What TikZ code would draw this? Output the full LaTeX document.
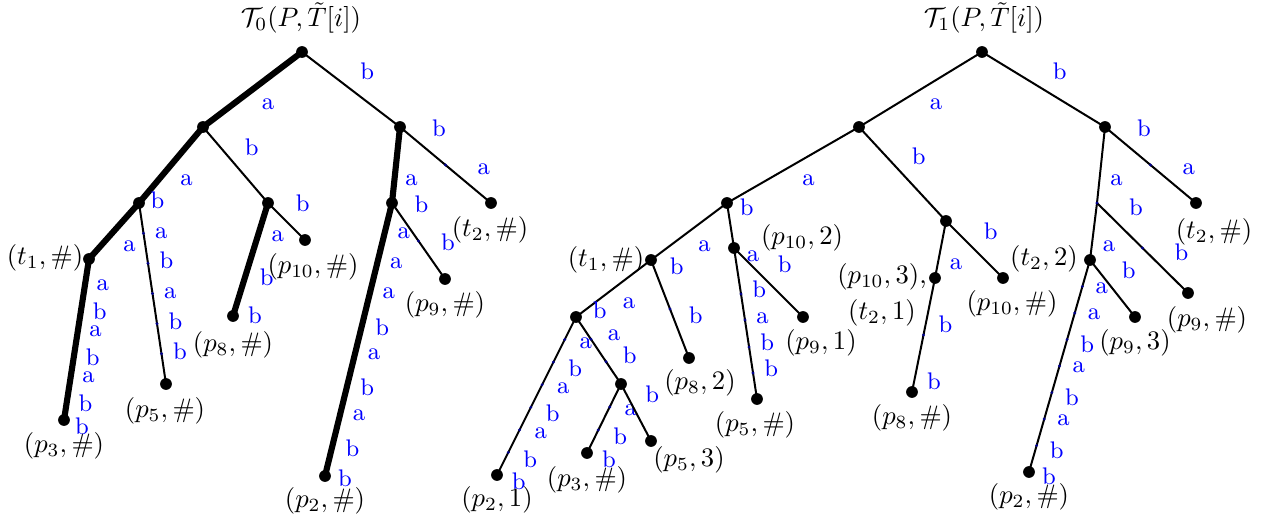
\documentclass[tikz,border=0pt]{standalone}
\usepackage{amsmath}
\usepackage{tikz}
\usetikzlibrary{calc}

\tikzset{
  vtx/.style={circle,fill=black,inner sep=0pt,minimum size=4.4pt},
  edge/.style={line width=0.75pt},
  heavy/.style={line width=2.3pt},
  lbl/.style={auto,font=\small,text=blue,inner sep=3.3pt},
  tag/.style={inner sep=0pt},
  segdot/.style={fill=blue!55!black}
}

% one letter per segment of an edge
\newcommand{\elabels}[3]{%
  \foreach \ltr [count=\ii] in {#3} {\xdef\nseg{\ii}}%
  \foreach \ltr [count=\ii] in {#3} {%
    \pgfmathsetmacro\fr{(\ii-0.5)/\nseg}%
    \path (#1.center) -- (#2.center) node[lbl,pos=\fr] {\ltr};}%
}
% thin edge, with a small dot between two letters
\newcommand{\tedge}[3]{%
  \draw[edge] (#1.center) -- (#2.center);
  \elabels{#1}{#2}{#3}%
  \ifnum\nseg>1
    \pgfmathtruncatemacro\nlast{\nseg-1}%
    \foreach \k in {1,...,\nlast} {%
      \pgfmathsetmacro\fr{\k/\nseg}%
      \fill[segdot] ($(#1.center)!\fr!(#2.center)$) circle (0.6pt);}%
  \fi}
% thick edge
\newcommand{\hedge}[3]{%
  \draw[heavy] (#1.center) -- (#2.center);
  \elabels{#1}{#2}{#3}}

\begin{document}
\begin{tikzpicture}[x=0.375pt,y=-0.375pt]
  \useasboundingbox (0,0) rectangle (1269,523);

  % T_0
  \node[tag] (title0) at (301,18) {$\mathcal{T}_0(P,\tilde{T}[i])$};
  \node[vtx] (t0root) at (302,52) {};
  \node[vtx] (t0a)    at (203,127) {};
  \node[vtx] (t0b)    at (400,127) {};
  \node[vtx] (t0aa)   at (139,203) {};
  \node[vtx] (t0ab)   at (268,203) {};
  \node[vtx] (t0t1)   at (89,259) {};
  \node[vtx] (t0p3)   at (64,420) {};
  \node[vtx] (t0p5)   at (166,384) {};
  \node[vtx] (t0p10)  at (305,240) {};
  \node[vtx] (t0p8)   at (233,316) {};
  \node[vtx] (t0ba)   at (392,203) {};
  \node[vtx] (t0p9)   at (445,279) {};
  \node[vtx] (t0t2)   at (491,203) {};
  \node[vtx] (t0p2)   at (325,476) {};

  \node[tag] (t0t1tag)  at (45,258)  {$(t_1,\#)$};
  \node[tag] (t0p3tag)  at (64,446)  {$(p_3,\#)$};
  \node[tag] (t0p5tag)  at (165,411) {$(p_5,\#)$};
  \node[tag] (t0p8tag)  at (233,345) {$(p_8,\#)$};
  \node[tag] (t0p10tag) at (313,267) {$(p_{10},\#)$};
  \node[tag] (t0p9tag)  at (445,305) {$(p_9,\#)$};
  \node[tag] (t0p2tag)  at (325,501) {$(p_2,\#)$};
  \node[tag] (t0t2tag)  at (490,230) {$(t_2,\#)$};

  \hedge{t0root}{t0a}{a}
  \tedge{t0root}{t0b}{b}
  \hedge{t0a}{t0aa}{a}
  \tedge{t0a}{t0ab}{b}
  \hedge{t0aa}{t0t1}{a}
  \tedge{t0aa}{t0p5}{b,a,b,a,b,b}
  \hedge{t0t1}{t0p3}{a,b,a,b,a,b,b}
  \tedge{t0ab}{t0p10}{b}
  \hedge{t0ab}{t0p8}{a,b,b}
  \hedge{t0b}{t0ba}{a}
  \hedge{t0ba}{t0p2}{a,a,a,b,a,b,a,b,b}
  \tedge{t0ba}{t0p9}{b,b}
  \tedge{t0b}{t0t2}{b,a}

  % T_1
  \node[tag] (title1) at (984,18) {$\mathcal{T}_1(P,\tilde{T}[i])$};
  \node[vtx] (t1root)    at (982,52) {};
  \node[vtx] (t1a)       at (859,127) {};
  \node[vtx] (t1b)       at (1105,127) {};
  \node[vtx] (t1aa)      at (727,203) {};
  \node[vtx] (t1ab)      at (946,221) {};
  \node[vtx] (t1t1)      at (651,260) {};
  \node[vtx] (t1aaaa)    at (576,317) {};
  \node[vtx] (t1aaaabab) at (621,384) {};
  \node[vtx] (t1p2)      at (497,475) {};
  \node[vtx] (t1p3)      at (587,453) {};
  \node[vtx] (t1p5c)     at (651,441) {};
  \node[vtx] (t1p8b)     at (689,358) {};
  \node[vtx] (t1aab)     at (734,248) {};
  \node[vtx] (t1p5)      at (757,399) {};
  \node[vtx] (t1p9a)     at (803,317) {};
  \node[vtx] (t1aba)     at (935,278) {};
  \node[vtx] (t1p8)      at (912,392) {};
  \node[vtx] (t1p10)     at (1003,278) {};
  \coordinate (t1ba)     at (1097,203);
  \node[vtx] (t1baa)     at (1090,260) {};
  \node[vtx] (t1p9c)     at (1135,317) {};
  \node[vtx] (t1p2h)     at (1029,472) {};
  \node[vtx] (t1p9)      at (1188,293) {};
  \node[vtx] (t1t2)      at (1196,203) {};

  \node[tag] (t1t1tag)  at (606,260)  {$(t_1,\#)$};
  \node[tag] (t1p2tag)  at (497,500)  {$(p_2,1)$};
  \node[tag] (t1p3tag)  at (587,480)  {$(p_3,\#)$};
  \node[tag] (t1p5ctag) at (689,460)  {$(p_5,3)$};
  \node[tag] (t1p8btag) at (700,383)  {$(p_8,2)$};
  \node[tag] (t1aabtag) at (802,238)  {$(p_{10},2)$};
  \node[tag] (t1p5tag)  at (755,425)  {$(p_5,\#)$};
  \node[tag] (t1p9atag) at (821,343)  {$(p_9,1)$};
  \node[tag,align=center] (t1abatag) at (882,295) {$(p_{10},3)$,\\[1.5pt]$(t_2,1)$};
  \node[tag] (t1p8tag)  at (912,418)  {$(p_8,\#)$};
  \node[tag] (t1p10tag) at (1012,304) {$(p_{10},\#)$};
  \node[tag] (t1baatag) at (1044,259) {$(t_2,2)$};
  \node[tag] (t1p9ctag) at (1135,343) {$(p_9,3)$};
  \node[tag] (t1p2htag) at (1029,497) {$(p_2,\#)$};
  \node[tag] (t1p9tag)  at (1207,320) {$(p_9,\#)$};
  \node[tag] (t1t2tag)  at (1214,232) {$(t_2,\#)$};

  \tedge{t1root}{t1a}{a}
  \tedge{t1root}{t1b}{b}
  \tedge{t1a}{t1aa}{a}
  \tedge{t1a}{t1ab}{b}
  \tedge{t1aa}{t1t1}{a}
  \tedge{t1aa}{t1aab}{b}
  \tedge{t1t1}{t1aaaa}{a}
  \tedge{t1t1}{t1p8b}{b,b}
  \tedge{t1aaaa}{t1p2}{a,b,a,b,a,b,b}
  \tedge{t1aaaa}{t1aaaabab}{b,a,b}
  \tedge{t1aaaabab}{t1p3}{a,b,b}
  \tedge{t1aaaabab}{t1p5c}{b}
  % first segment is longer here
  \draw[edge] (t1aab.center) -- (t1p5.center);
  \foreach \ltr/\fr in {a/0.152,b/0.391,a/0.566,b/0.742,b/0.914}
    \path (t1aab.center) -- (t1p5.center) node[lbl,pos=\fr] {\ltr};
  \foreach \fr in {0.305,0.477,0.656,0.828}
    \fill[segdot] ($(t1aab.center)!\fr!(t1p5.center)$) circle (0.6pt);
  \tedge{t1aab}{t1p9a}{b}
  \tedge{t1ab}{t1aba}{a}
  \tedge{t1ab}{t1p10}{b}
  \tedge{t1aba}{t1p8}{b,b}
  \tedge{t1b}{t1ba}{a}
  \tedge{t1ba}{t1baa}{a}
  \tedge{t1ba}{t1p9}{b,b}
  \fill[segdot] (t1ba) circle (0.6pt);
  \tedge{t1baa}{t1p9c}{b}
  \tedge{t1baa}{t1p2h}{a,a,b,a,b,a,b,b}
  \tedge{t1b}{t1t2}{b,a}
\end{tikzpicture}
\end{document}
